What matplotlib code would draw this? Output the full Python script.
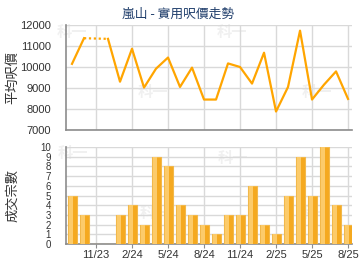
import numpy as np
import matplotlib
matplotlib.use("Agg")
import matplotlib.pyplot as plt

plt.rcParams['font.family'] = ['Noto Sans CJK TC', 'DejaVu Sans']

months = ["9/23", "10/23", "11/23", "12/23", "1/24", "2/24", "3/24", "4/24",
          "5/24", "6/24", "7/24", "8/24", "9/24", "10/24", "11/24", "12/24",
          "1/25", "2/25", "3/25", "4/25", "5/25", "6/25", "7/25", "8/25"]
price = [10150, 11370, np.nan, 11340, 9300, 10870, 9020, 9920,
         10450, 9050, 9970, 8450, 8450, 10170, 10000, 9210,
         10680, 7880, 9050, 11730, 8450, 9160, 9790, 8480]
deals = [5, 3, 0, 0, 3, 4, 2, 9, 8, 4, 3, 2, 1, 3, 3, 6, 2, 1, 5, 9, 5, 10, 4, 2]
tick_months = ["11/23", "2/24", "5/24", "8/24", "11/24", "2/25", "5/25", "8/25"]

x = np.arange(len(months))
price = np.array(price, dtype=float)
tick_pos = [months.index(m) for m in tick_months]

fig = plt.figure(figsize=(3.6, 2.7), dpi=100)
fig.patch.set_facecolor("white")

ax1 = fig.add_axes([66/360, 1-130/270, 286/360, 105/270])
ax2 = fig.add_axes([66/360, 1-244/270, 286/360, 97/270])

grid_c = "#d9d9d9"
txt_c = "#333333"
num_font = ["Liberation Sans", "DejaVu Sans"]

for ax in (ax1, ax2):
    ax.set_facecolor("none")
    ax.set_xlim(-0.5, 23.33)
    ax.set_xticks(tick_pos)
    ax.grid(True, color=grid_c, linewidth=1)
    ax.set_axisbelow(True)
    for s in ("top", "right"):
        ax.spines[s].set_visible(False)
    for s in ("left", "bottom"):
        ax.spines[s].set_color("#8c8c8c")
        ax.spines[s].set_linewidth(1.2)
    ax.tick_params(axis="y", length=0, pad=11, labelcolor=txt_c, labelsize=8)
    ax.tick_params(axis="x", length=3, color="#8c8c8c", labelcolor=txt_c, labelsize=8, pad=1)

# watermarks
for (wx, wy) in [(72, 32), (232, 32), (153, 92), (317, 92),
                 (73, 153), (233, 158), (155, 213), (317, 213)]:
    fig.text(wx/360, 1-wy/270, "科一", color="#f0f0f0", fontsize=11,
             fontweight="bold", ha="center", va="center", zorder=-1)

# price line
ax1.plot(x, price, color="#FFA500", linewidth=1.6, zorder=3)
gap = [1, 3]
ax1.plot(x[gap], price[gap], color="#FFA500", linewidth=1.6, linestyle=(0, (1, 1.2)), zorder=3)
ax1.set_ylim(7000, 12000)
ax1.set_yticks(np.arange(7000, 12001, 1000))
ax1.set_xticklabels([])
ax1.tick_params(axis="x", length=0)
for lab in ax1.get_yticklabels():
    lab.set_family(num_font)

# deals bars
ax2.bar(x, deals, width=0.75, color="#F5A91F", edgecolor="#F2B84A", linewidth=0.8, zorder=3)
ax2.bar(x - 0.08, deals, width=0.3, color="#FCCB6A", linewidth=0, zorder=4)
ax2.set_ylim(0, 10)
ax2.set_yticks(np.arange(0, 11, 1))
ax2.set_xticklabels(tick_months)
for lab in ax2.get_xticklabels():
    lab.set_family(num_font)
ax2.tick_params(axis="y", labelsize=7, pad=11)
for lab in ax2.get_yticklabels():
    lab.set_family(["Liberation Sans Narrow", "Liberation Sans", "DejaVu Sans"])

fig.text(13/360, 1-78/270, "平均呎價", rotation=90, fontsize=9.5, color=txt_c,
         ha="center", va="center")
fig.text(13/360, 1-196/270, "成交宗數", rotation=90, fontsize=9.5, color=txt_c,
         ha="center", va="center")

fig.text(178/360, 1-14/270, "嵐山 - 實用呎價走勢", color="#1f3d6b",
         fontsize=9.2, ha="center", va="center")

fig.savefig("out.png", dpi=100, facecolor="white")
